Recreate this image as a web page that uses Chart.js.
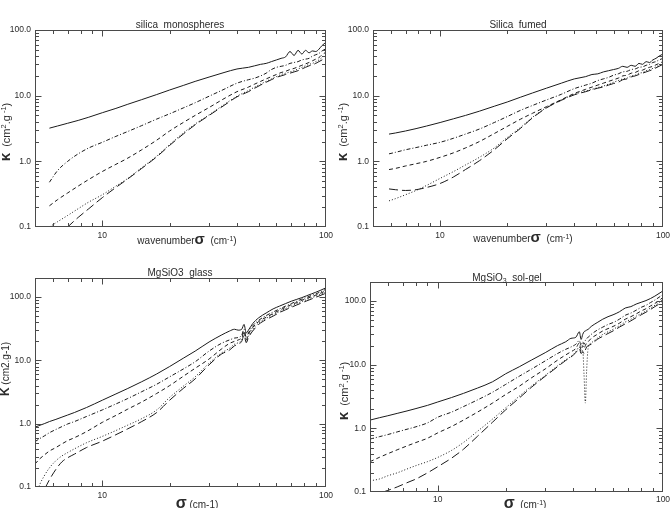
<!DOCTYPE html>
<html>
<head>
<meta charset="utf-8">
<script src="https://cdn.jsdelivr.net/npm/chart.js"></script>
<style>
  html, body { margin: 0; padding: 0; background: #fff; }
  #page { position: relative; width: 670px; height: 508px; overflow: hidden; background: #fff; }
  #page canvas { position: absolute; }
</style>
</head>
<body>
<div id="page">
  <canvas id="p1" width="335" height="254" style="left:0;top:0"></canvas>
  <canvas id="p2" width="335" height="254" style="left:335px;top:0"></canvas>
  <canvas id="p3" width="335" height="254" style="left:0;top:254px"></canvas>
  <canvas id="p4" width="335" height="254" style="left:335px;top:254px"></canvas>
</div>
<script>
// ---- data (wavenumber sigma in cm-1, kappa in cm2/g) ----

// silica monospheres
const p1X = [5.8, 6.3, 7, 7.8, 8.7, 10, 11.5, 13, 15, 17.5, 20, 23, 26, 30, 35, 40, 45, 48, 51, 54, 57, 60, 63, 66, 69, 72, 75, 78, 81, 84, 87, 90, 93, 96, 100];
const p1Solid = [3.2, 3.45, 3.8, 4.2, 4.7, 5.5, 6.4, 7.4, 8.7, 10.4, 12.2, 14.3, 16.5, 19.2, 22.5, 25.5, 27, 28.5, 30, 31, 33, 35, 37, 39, 47, 41, 49, 43, 49, 45, 48, 47, 51, 58, 65];
const p1DashDot = [0.48, 0.72, 1.0, 1.3, 1.6, 1.95, 2.4, 2.85, 3.5, 4.4, 5.3, 6.5, 7.8, 9.8, 12.5, 15.5, 17.5, 18.5, 20, 22, 25, 27, 28, 29, 31, 32, 33, 35, 36, 37, 40, 42, 44, 48, 52];
const p1Dashed = [0.21, 0.26, 0.33, 0.42, 0.53, 0.7, 0.9, 1.12, 1.5, 2.1, 2.9, 3.9, 5.0, 6.6, 9, 11.5, 13.5, 15, 16.5, 18, 19.5, 21, 22.5, 23.5, 25, 26, 27.5, 29, 30.5, 32, 34, 36, 38, 42, 46];
const p1Dotted = [0.1, 0.12, 0.15, 0.19, 0.24, 0.31, 0.42, 0.55, 0.8, 1.2, 1.8, 2.7, 3.7, 5.1, 7.3, 9.8, 12, 13.5, 15, 16.5, 18, 19.5, 21, 22, 23, 24, 25.5, 27, 28.5, 30, 31, 33, 35, 38, 42];
const p1LongDash = [0.05, 0.068, 0.1, 0.14, 0.19, 0.28, 0.4, 0.54, 0.78, 1.17, 1.75, 2.6, 3.6, 5.0, 7.1, 9.6, 11.5, 13, 14.5, 16, 17.5, 19, 20, 21, 22, 23, 24, 25.5, 27, 28.5, 29.5, 31, 33, 35, 38];

// silica fumed
const p2X = [5.9, 6.3, 7, 7.8, 8.7, 10, 11.5, 13, 15, 17.5, 20, 23, 26, 30, 35, 40, 45, 48, 51, 54, 57, 60, 63, 66, 69, 72, 75, 78, 81, 84, 87, 90, 93, 96, 100];
const p2Solid = [2.6, 2.7, 2.9, 3.15, 3.45, 3.9, 4.45, 5.0, 5.8, 6.9, 8.0, 9.5, 11, 13, 15.5, 18, 19.5, 21, 21.5, 23, 24, 25, 26, 28, 27, 29, 28, 31, 30, 33, 32, 35, 37, 40, 43];
const p2DashDot = [1.3, 1.37, 1.5, 1.62, 1.76, 1.95, 2.25, 2.6, 3.1, 3.9, 4.8, 6.0, 7.1, 8.6, 10.5, 12.8, 14.5, 15.5, 17, 18, 19, 20.5, 21.5, 23, 23.5, 25, 25.5, 27, 27.5, 29, 30, 32, 33, 35, 37];
const p2Dashed = [0.75, 0.78, 0.85, 0.92, 1.0, 1.15, 1.35, 1.6, 2.0, 2.65, 3.4, 4.4, 5.4, 6.8, 8.7, 10.8, 12.5, 13.5, 14.5, 15.5, 16.5, 17.5, 18.5, 20, 20.5, 22, 22.5, 24, 24.5, 26, 27, 28, 29.5, 31, 33];
const p2Dotted = [0.25, 0.27, 0.31, 0.36, 0.43, 0.55, 0.7, 0.88, 1.15, 1.6, 2.3, 3.3, 4.7, 6.6, 8.6, 10.5, 11.8, 12.5, 13.3, 14, 15, 16, 17, 18, 18.5, 20, 20.5, 22, 22.5, 24, 25, 26, 27.5, 29, 31];
const p2LongDash = [0.38, 0.37, 0.36, 0.37, 0.4, 0.46, 0.58, 0.75, 1.02, 1.5, 2.2, 3.2, 4.6, 6.5, 8.5, 10.3, 11.5, 12.3, 13, 13.6, 14.5, 15.3, 16, 17.5, 18, 19.3, 20, 21, 22, 23, 24, 25, 26.5, 28, 30];

// MgSiO3 glass
const p3X = [5, 5.2, 5.5, 5.8, 6.2, 6.6, 7, 7.5, 8.5, 10, 11.5, 13, 15, 17.5, 20, 23, 26, 30, 34, 37, 39, 40.5, 42, 43, 44, 45, 47, 50, 54, 58, 62, 66, 70, 74, 78, 82, 86, 90, 95, 100];
const p3Solid = [0.88, 0.93, 1.0, 1.08, 1.17, 1.27, 1.37, 1.5, 1.8, 2.35, 2.95, 3.6, 4.6, 6.1, 8.0, 10.8, 14, 19.5, 25, 29, 31, 30, 31, 37, 27, 30, 38, 47, 56, 65, 72, 79, 86, 92, 98, 105, 112, 119, 129, 140];
const p3DashDot = [0.52, 0.57, 0.64, 0.72, 0.81, 0.9, 0.99, 1.08, 1.3, 1.65, 2.05, 2.5, 3.2, 4.2, 5.5, 7.3, 9.5, 14, 18.5, 21, 22.5, 23, 25, 31, 23, 27, 35, 43, 51, 58, 65, 72, 79, 86, 93, 99, 106, 112, 122, 133];
const p3Dashed = [0.23, 0.27, 0.32, 0.37, 0.42, 0.48, 0.54, 0.6, 0.75, 1.05, 1.35, 1.7, 2.2, 3.0, 4.0, 5.6, 7.5, 10.5, 15, 18.5, 20, 21, 23, 29, 21, 26, 33, 41, 48, 55, 62, 69, 76, 82, 89, 95, 101, 107, 116, 126];
const p3Dotted = [0.06, 0.1, 0.15, 0.2, 0.26, 0.31, 0.35, 0.4, 0.5, 0.63, 0.78, 0.95, 1.2, 1.65, 2.6, 3.9, 5.5, 9, 13, 15.5, 18, 19, 21, 27, 20, 24, 31, 39, 46, 53, 59, 66, 72, 79, 85, 91, 97, 103, 111, 120];
const p3LongDash = [0.04, 0.06, 0.09, 0.13, 0.19, 0.25, 0.29, 0.33, 0.42, 0.53, 0.67, 0.83, 1.08, 1.5, 2.35, 3.6, 5.1, 8.5, 12.5, 14.5, 17, 18, 20, 25, 19, 23, 29, 37, 44, 50, 57, 63, 69, 75, 81, 87, 93, 99, 107, 115];

// MgSiO3 sol-gel
const p4X = [5, 5.5, 6, 6.6, 7.3, 8, 9, 10, 11.5, 13, 15, 17.5, 20, 23, 26, 30, 34, 37, 39, 41, 42.5, 43.3, 44, 44.6, 45.2, 45.8, 46.5, 48, 51, 54, 57, 60, 64, 68, 72, 76, 80, 84, 88, 92, 96, 100];
const p4Solid = [1.35, 1.47, 1.58, 1.72, 1.88, 2.05, 2.3, 2.6, 3.05, 3.55, 4.3, 5.4, 7.2, 9.3, 11.8, 15.5, 20, 23, 26, 27, 33, 25, 30, 33, 34, 35, 36, 40, 46, 52, 57, 61, 68, 78, 82, 90, 96, 102, 110, 120, 132, 145];
const p4DashDot = [0.68, 0.74, 0.8, 0.88, 0.97, 1.06, 1.22, 1.5, 1.8, 2.2, 2.8, 3.7, 4.9, 6.6, 8.5, 11.5, 15, 17.5, 19, 21, 24, 20, 23, 21, 24, 26, 27, 30, 35, 39, 43, 46, 52, 60, 65, 72, 80, 86, 95, 104, 115, 128];
const p4Dashed = [0.3, 0.35, 0.4, 0.46, 0.53, 0.6, 0.7, 0.85, 1.07, 1.35, 1.8, 2.5, 3.4, 4.6, 6.2, 8.6, 11.8, 14.3, 16, 18, 22, 17, 20, 18, 20, 22, 23, 26, 30, 34, 37, 40, 45, 52, 57, 63, 70, 76, 84, 92, 102, 115];
const p4Dotted = [0.15, 0.16, 0.18, 0.2, 0.23, 0.26, 0.3, 0.35, 0.45, 0.6, 0.9, 1.4, 2.1, 3.2, 4.6, 6.8, 9.6, 12, 13.5, 16, 19, 16, 17, 7, 2.5, 8, 18, 22, 26, 30, 33, 36, 41, 47, 52, 58, 64, 70, 78, 86, 95, 108];
const p4LongDash = [0.085, 0.095, 0.106, 0.12, 0.14, 0.16, 0.2, 0.25, 0.34, 0.47, 0.75, 1.25, 1.95, 3.0, 4.4, 6.6, 9.3, 11.7, 13.2, 15.5, 18, 15, 16, 15, 17, 19, 20, 21, 25, 28, 31, 34, 39, 44, 49, 55, 61, 67, 74, 82, 90, 102];

const xTickLabels = [10, 100];
const yTickLabels = [0.1, 1, 10, 100];

// ---- styling ----
const FONT = '"Liberation Sans", "DejaVu Sans", sans-serif';
const INK = '#2b2b2b';
const LINE = '#1a1a1a';
const FRAME = '#4a4a4a';
// solid, dash-dot, dashed, dotted, long dash
const DASHES = [[], [4, 2, 1, 2], [4, 3], [1, 2], [9, 4]];

function run(text, size, opt) {
  opt = opt || {};
  return { text: text, size: size, bold: !!opt.bold, dy: opt.dy || 0 };
}

const kappaLabel = [run('κ', 15, { bold: true }), run('  (cm', 11), run('2', 7.5, { dy: -3.5 }), run('.g', 11), run(' -1', 7.5, { dy: -3.5 }), run(')', 11)];

const panels = [
  {
    canvas: 'p1', x: p1X, series: [p1Solid, p1DashDot, p1Dashed, p1Dotted, p1LongDash],
    yMax: 100, area: { l: 35, r: 326, t: 30, b: 227 }, tickPad: 4,
    title: [run('silica  monospheres', 10)], titleAt: [180, 24],
    xLabel: [run('wavenumber', 10), run('σ', 15, { bold: true }), run('  (cm', 10), run('-1', 7, { dy: -3 }), run(')', 10)], xLabelAt: [187, 240],
    yLabel: kappaLabel, yLabelAt: [6, 132]
  },
  {
    canvas: 'p2', x: p2X, series: [p2Solid, p2DashDot, p2Dashed, p2Dotted, p2LongDash],
    yMax: 100, area: { l: 38, r: 328, t: 30, b: 227 }, tickPad: 4,
    title: [run('Silica  fumed', 10)], titleAt: [183, 24],
    xLabel: [run('wavenumber', 10), run('σ', 15, { bold: true }), run('  (cm', 10), run('-1', 7, { dy: -3 }), run(')', 10)], xLabelAt: [188, 238],
    yLabel: kappaLabel, yLabelAt: [8, 132]
  },
  {
    canvas: 'p3', x: p3X, series: [p3Solid, p3DashDot, p3Dashed, p3Dotted, p3LongDash],
    yMax: 200, area: { l: 35, r: 326, t: 24, b: 233 }, tickPad: 4,
    title: [run('MgSiO3  glass', 10)], titleAt: [180, 18],
    xLabel: [run('σ', 16, { bold: true }), run(' (cm-1)', 10)], xLabelAt: [197, 250],
    yLabel: [run('K', 12, { bold: true }), run(' (cm2.g-1)', 10)], yLabelAt: [5, 115]
  },
  {
    canvas: 'p4', x: p4X, series: [p4Solid, p4DashDot, p4Dashed, p4Dotted, p4LongDash],
    yMax: 200, area: { l: 35, r: 328, t: 28, b: 238 }, tickPad: 3,
    title: [run('MgSiO', 10), run('3', 7, { dy: 2 }), run('  sol-gel', 10)], titleAt: [172, 23],
    xLabel: [run('σ', 16, { bold: true }), run('  (cm', 10), run('-1', 7, { dy: -3 }), run(')', 10)], xLabelAt: [190, 250],
    yLabel: kappaLabel, yLabelAt: [9, 137]
  }
];

function fontOf(r) {
  return (r.bold ? 'bold ' : '') + r.size + 'px ' + FONT;
}

function drawRuns(ctx, runs, at, vertical) {
  ctx.save();
  ctx.translate(at[0], at[1]);
  if (vertical) ctx.rotate(-Math.PI / 2);
  ctx.fillStyle = INK;
  ctx.textAlign = 'left';
  ctx.textBaseline = 'alphabetic';
  let total = 0;
  for (const r of runs) { ctx.font = fontOf(r); total += ctx.measureText(r.text).width; }
  let x = -total / 2;
  for (const r of runs) {
    ctx.font = fontOf(r);
    ctx.fillText(r.text, x, 3.5 + r.dy);
    x += ctx.measureText(r.text).width;
  }
  ctx.restore();
}

// tick positions 1..9 x 10^n inside (min, max)
function logTicks(min, max) {
  const out = [];
  let d = Math.pow(10, Math.floor(Math.log10(min)));
  while (d <= max) {
    for (let k = 1; k <= 9; k++) {
      const v = k * d;
      if (v > min * 1.0001 && v < max * 0.9999) out.push({ v: v, major: k === 1 });
    }
    d *= 10;
  }
  return out;
}

// IDL style box: frame, inward ticks on all four sides, titles
function idlDecor(spec) {
  return {
    id: 'idlDecor',
    afterDatasetsDraw(chart) {
      const { ctx, chartArea: a, scales } = chart;
      const L = Math.round(a.left) + 0.5, R = Math.round(a.right) - 0.5;
      const T = Math.round(a.top) + 0.5, B = Math.round(a.bottom) - 0.5;
      ctx.save();
      ctx.strokeStyle = FRAME;
      ctx.lineWidth = 1;
      ctx.setLineDash([]);
      ctx.strokeRect(L, T, R - L, B - T);
      ctx.beginPath();
      for (const t of logTicks(scales.x.min, scales.x.max)) {
        const px = Math.round(scales.x.getPixelForValue(t.v)) + 0.5;
        const len = t.major ? 6 : 3.5;
        ctx.moveTo(px, B); ctx.lineTo(px, B - len);
        ctx.moveTo(px, T); ctx.lineTo(px, T + len);
      }
      for (const t of logTicks(scales.y.min, scales.y.max)) {
        const py = Math.round(scales.y.getPixelForValue(t.v)) + 0.5;
        const len = t.major ? 6 : 3.5;
        ctx.moveTo(L, py); ctx.lineTo(L + len, py);
        ctx.moveTo(R, py); ctx.lineTo(R - len, py);
      }
      ctx.stroke();
      ctx.restore();
      drawRuns(ctx, spec.title, spec.titleAt, false);
      drawRuns(ctx, spec.xLabel, spec.xLabelAt, false);
      drawRuns(ctx, spec.yLabel, spec.yLabelAt, true);
    }
  };
}

function buildChart(spec) {
  const el = document.getElementById(spec.canvas);
  const W = el.width, H = el.height, A = spec.area;
  const datasets = spec.series.map((ys, i) => ({
    data: spec.x.map((x, j) => ({ x: x, y: ys[j] })),
    borderColor: LINE,
    borderWidth: 1,
    borderDash: DASHES[i],
    pointRadius: 0,
    fill: false,
    cubicInterpolationMode: 'monotone'
  }));
  return new Chart(el, {
    type: 'line',
    data: { datasets: datasets },
    options: {
      responsive: false,
      animation: false,
      devicePixelRatio: 1,
      events: [],
      layout: { padding: { left: 0, right: W - A.r, top: A.t, bottom: 0 } },
      plugins: { legend: { display: false }, tooltip: { enabled: false }, title: { display: false } },
      scales: {
        x: {
          type: 'logarithmic', min: 5, max: 100,
          grid: { display: false, drawTicks: false }, border: { display: false },
          ticks: {
            autoSkip: false, maxRotation: 0, minRotation: 0, padding: spec.tickPad,
            color: INK, font: { family: FONT, size: 8.5 },
            callback: v => String(v)
          },
          afterBuildTicks: s => { s.ticks = xTickLabels.map(v => ({ value: v })); },
          afterFit: s => { s.height = H - A.b; s.paddingLeft = 0; s.paddingRight = 0; }
        },
        y: {
          type: 'logarithmic', min: 0.1, max: spec.yMax,
          grid: { display: false, drawTicks: false }, border: { display: false },
          ticks: {
            autoSkip: false, padding: 4,
            color: INK, font: { family: FONT, size: 8.5 },
            callback: v => Number(v).toFixed(1)
          },
          afterBuildTicks: s => { s.ticks = yTickLabels.map(v => ({ value: v })); },
          afterFit: s => { s.width = A.l; s.paddingTop = 0; s.paddingBottom = 0; }
        }
      }
    },
    plugins: [idlDecor(spec)]
  });
}

panels.forEach(buildChart);
</script>
</body>
</html>
